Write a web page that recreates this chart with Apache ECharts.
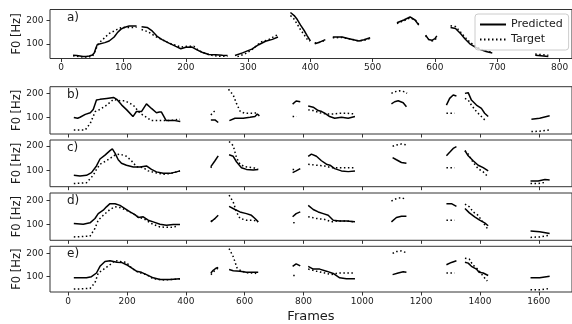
<!DOCTYPE html>
<html><head><meta charset="utf-8">
<script src="https://cdn.jsdelivr.net/npm/echarts@6/dist/echarts.min.js"></script>
<style>html,body{margin:0;padding:0;background:#fff}#c{width:572px;height:324px}</style>
</head><body><div id="c"></div>
<script>
// ---- tick labels ----
const xTicksA = [0, 100, 200, 300, 400, 500, 600, 700, 800];
const xTicksB = [0, 200, 400, 600, 800, 1000, 1200, 1400, 1600];
const yTicks = [100, 200];
const panelLetters = ['a)', 'b)', 'c)', 'd)', 'e)'];
const seriesNames = ['Predicted', 'Target'];

// ---- data: segments of [frame, F0 Hz] ----
const predA = [
 [[19,52],[25,51],[30,49],[35,47],[40,47],[45,49],[50,53],[53,62],[56,85],[58,98],[61,100],[70,106],[77,113],[85,130],[90,148],[96,164],[101,171],[109,177],[121,177]],
 [[129,174],[138,171],[146,156],[154,133],[162,119],[173,104],[184,90],[192,80],[200,86],[210,87],[218,75],[226,65],[237,55],[248,54],[259,52],[267,51]],
 [[279,51],[291,62],[306,78],[317,97],[328,112],[339,120],[348,130]],
 [[368,235],[374,222],[379,205],[384,182],[390,158],[395,135],[400,113]],
 [[407,101],[415,108],[424,119]],
 [[436,130],[451,130],[462,123],[478,113],[486,118],[496,127]],
 [[539,191],[550,203],[560,216],[568,203],[574,181]],
 [[585,138],[590,119],[595,116],[600,123],[603,135]],
 [[625,171],[633,167],[641,145],[648,123],[656,101],[664,88],[672,77],[682,68],[692,62]],
 [[761,52],[770,50],[782,47]]
];
const targA = [
 [[19,50],[25,48],[30,46],[35,44],[40,44],[45,45],[50,48],[53,60],[56,80],[58,92],[62,108],[67,120],[72,133],[77,145],[85,156],[90,163],[96,170],[105,171],[115,171],[121,172]],
 [[129,162],[140,152],[151,133],[162,119],[173,104],[184,94],[192,87],[203,91],[213,90],[221,72],[232,58],[243,51],[253,48],[267,48]],
 [[283,46],[295,58],[306,75],[320,108],[333,119],[348,141]],
 [[368,222],[373,210],[379,185],[384,162],[390,140],[395,120],[399,112]],
 [[407,104],[415,108],[424,116]],
 [[436,127],[451,128],[462,123],[478,113],[486,116],[496,124]],
 [[539,188],[550,200],[560,212],[568,205],[574,184]],
 [[585,135],[590,120],[595,113],[600,117],[603,128]],
 [[625,178],[633,175],[641,152],[648,130],[656,108],[664,92],[672,80],[682,70],[692,64]],
 [[761,57],[770,55],[782,52]]
];
const predB = [
 [[19,99],[25,97],[32,96],[40,100],[46,103],[58,112],[75,119],[85,133],[92,158],[96,172],[108,175],[131,179],[154,183],[165,175],[182,151],[199,131],[220,103],[232,124],[249,124],[266,156],[283,137],[300,119],[310,122],[317,122],[333,86],[347,86],[363,86],[381,82]],
 [[485,89],[499,89],[510,78]],
 [[548,86],[567,96],[595,96],[618,100],[635,103],[643,114],[650,106]],
 [[763,155],[775,168],[789,165]],
 [[816,147],[833,142],[850,128],[862,124],[872,117],[889,103],[906,96],[929,100],[952,96],[975,103]],
 [[1099,156],[1110,165],[1122,169],[1139,161],[1150,144]],
 [[1286,151],[1297,179],[1309,193],[1320,189]],
 [[1349,200],[1360,203],[1371,172],[1388,151],[1405,137],[1416,117],[1428,103]],
 [[1575,92],[1603,96],[1637,106]]
];
const targB = [
 [[19,47],[40,47],[58,47],[75,75],[92,124],[108,133],[131,151],[154,175],[176,169],[193,169],[221,151],[244,117],[266,100],[283,86],[300,86],[334,86],[357,88],[380,92]],
 [[485,110],[494,122],[504,133]],
 [[545,217],[561,193],[572,158],[585,124],[600,117],[629,117],[647,119]],
 [[763,103],[777,103]],
 [[816,131],[833,128],[856,119],[878,114],[901,114],[923,117],[946,117],[975,114]],
 [[1099,200],[1110,207],[1127,211],[1144,207],[1152,200]],
 [[1286,117],[1298,117],[1314,117]],
 [[1349,179],[1360,172],[1371,151],[1388,124],[1405,103],[1422,82]],
 [[1575,40],[1603,42],[1637,47]]
];
const predC = [
 [[19,81],[40,78],[62,81],[79,92],[96,119],[108,147],[125,163],[142,181],[150,188],[159,171],[170,144],[181,130],[198,122],[221,115],[244,115],[266,119],[283,105],[300,95],[323,89],[346,89],[368,95],[380,99]],
 [[485,116],[499,140],[510,160]],
 [[547,164],[561,158],[572,136],[589,112],[606,105],[629,103],[646,105]],
 [[763,92],[775,99],[789,108]],
 [[816,158],[827,167],[844,158],[861,140],[878,126],[890,122],[906,108],[929,99],[952,96],[975,99]],
 [[1103,153],[1116,144],[1133,133],[1150,130]],
 [[1286,160],[1297,174],[1309,190],[1320,197]],
 [[1349,181],[1360,160],[1377,140],[1394,122],[1411,112],[1428,99]],
 [[1572,58],[1598,58],[1621,64],[1637,62]]
];
const targC = [
 [[19,48],[62,51],[85,81],[96,105],[108,126],[130,140],[159,163],[176,167],[198,158],[215,140],[232,116],[255,112],[272,99],[295,92],[323,85],[351,89],[380,99]],
 [[484,112],[490,118]],
 [[547,218],[561,201],[572,153],[584,126],[600,116],[629,112],[646,105]],
 [[763,105],[775,105]],
 [[816,126],[844,122],[872,119],[895,112],[918,112],[946,112],[975,112]],
 [[1103,199],[1116,204],[1133,208],[1150,204]],
 [[1286,112],[1314,112]],
 [[1349,181],[1360,167],[1377,133],[1394,108],[1411,95],[1425,78]],
 [[1572,48],[1598,48],[1626,53]]
];
const predD = [
 [[19,104],[51,101],[74,107],[91,125],[102,145],[119,159],[130,173],[142,186],[159,186],[176,179],[193,166],[210,152],[227,141],[238,129],[255,132],[272,118],[289,111],[312,101],[334,97],[357,100],[380,100]],
 [[485,111],[499,125],[510,138]],
 [[547,175],[567,162],[584,152],[606,145],[623,138],[635,125],[646,111]],
 [[763,132],[775,145],[789,152]],
 [[816,179],[833,162],[850,152],[867,145],[884,138],[901,118],[923,115],[946,115],[975,111]],
 [[1099,111],[1116,129],[1133,134],[1150,134]],
 [[1286,186],[1303,186],[1320,175]],
 [[1349,166],[1364,148],[1382,132],[1399,118],[1416,107],[1428,95]],
 [[1572,73],[1603,70],[1637,63]]
];
const targD = [
 [[19,49],[74,52],[91,84],[102,118],[119,138],[142,162],[159,173],[176,170],[193,162],[215,148],[238,132],[261,121],[283,104],[312,90],[346,88],[374,93]],
 [[485,113],[499,124]],
 [[547,221],[561,193],[572,152],[584,125],[606,118],[629,118],[646,111]],
 [[765,107],[777,109]],
 [[816,132],[844,125],[872,121],[895,111],[918,115],[946,115],[975,111]],
 [[1099,197],[1116,207],[1133,211],[1150,203]],
 [[1286,118],[1314,118]],
 [[1349,184],[1364,173],[1377,152],[1394,138],[1411,107],[1425,84]],
 [[1572,47],[1603,49],[1637,56]]
];
const predE = [
 [[19,94],[62,94],[79,99],[96,115],[108,144],[125,165],[142,168],[165,162],[181,161],[198,151],[215,137],[232,123],[249,118],[266,108],[289,94],[312,87],[346,87],[380,90]],
 [[485,115],[493,127],[504,137],[510,139]],
 [[547,130],[561,125],[584,123],[606,118],[629,118],[646,118]],
 [[763,144],[775,155],[789,146]],
 [[816,144],[833,132],[855,132],[878,123],[901,113],[923,94],[946,90],[975,90]],
 [[1103,108],[1122,115],[1139,120],[1150,118]],
 [[1286,151],[1303,161],[1320,168]],
 [[1349,162],[1360,158],[1371,144],[1388,132],[1397,118],[1411,115],[1428,104]],
 [[1572,94],[1603,94],[1626,99],[1637,101]]
];
const targE = [
 [[19,45],[74,48],[91,73],[102,115],[119,130],[142,151],[159,169],[176,165],[198,161],[215,137],[238,118],[266,108],[289,90],[323,85],[357,87],[380,90]],
 [[485,108],[497,124],[510,137]],
 [[547,221],[561,186],[574,137],[589,123],[612,115],[635,115],[646,108]],
 [[765,104],[777,104]],
 [[816,132],[844,123],[872,115],[895,108],[918,115],[946,115],[975,115]],
 [[1103,200],[1116,208],[1133,211],[1150,203]],
 [[1286,115],[1314,115]],
 [[1349,179],[1364,175],[1375,151],[1394,130],[1411,101],[1425,80]],
 [[1572,42],[1603,42],[1637,48]]
];

// ---- layout ----
const panels = [
  {pred: predA, targ: targA, top: 9.5,  h: 49,   ymin: 38,   ymax: 248, xmin: -18, xmax: 820,  ticks: xTicksA, labels: true},
  {pred: predB, targ: targB, top: 86.7, h: 47.3, ymin: 30,   ymax: 228, xmin: -62, xmax: 1713, ticks: xTicksB, labels: false},
  {pred: predC, targ: targC, top: 140,  h: 46.7, ymin: 35,   ymax: 224, xmin: -62, xmax: 1713, ticks: xTicksB, labels: false},
  {pred: predD, targ: targD, top: 193,  h: 47.3, ymin: 35,   ymax: 230, xmin: -62, xmax: 1713, ticks: xTicksB, labels: false},
  {pred: predE, targ: targE, top: 246.3,h: 47,   ymin: 32.5, ymax: 231, xmin: -62, xmax: 1713, ticks: xTicksB, labels: true}
];

function flat(segs) {
  const out = [];
  segs.forEach((s, i) => {
    if (i) out.push([s[0][0] - 0.5, '-']);
    s.forEach(p => out.push(p));
  });
  return out;
}

const FONT = 'DejaVu Sans';
const TXT = '#1a1a1a';
const fmt = v => String(Math.round(v));
const grids = [], xAxes = [], yAxes = [], series = [], graphics = [];
panels.forEach((p, i) => {
  grids.push({left: 50, top: p.top, width: 522, height: p.h, show: true,
    borderColor: '#333', borderWidth: 1, backgroundColor: 'transparent', containLabel: false});
  xAxes.push({type: 'value', gridIndex: i, min: p.xmin, max: p.xmax,
    axisLine: {show: false, onZero: false}, splitLine: {show: false},
    axisTick: {show: true, length: 3.5, lineStyle: {color: '#333', width: 1}, customValues: p.ticks},
    axisLabel: {show: p.labels, customValues: p.ticks, formatter: fmt, margin: 5, fontSize: 9, fontFamily: FONT, color: TXT},
    name: i === 4 ? 'Frames' : '', nameLocation: 'middle', nameGap: 18, nameMoveOverlap: false,
    nameTextStyle: {fontSize: 13, fontFamily: FONT, color: TXT, verticalAlign: 'top'}
  });
  yAxes.push({type: 'value', gridIndex: i, min: p.ymin, max: p.ymax,
    axisLine: {show: false, onZero: false}, splitLine: {show: false},
    axisTick: {show: true, length: 3.5, lineStyle: {color: '#333', width: 1}, customValues: yTicks},
    axisLabel: {customValues: yTicks, formatter: fmt, margin: 6.5, fontSize: 9, fontFamily: FONT, color: TXT},
    name: 'F0 [Hz]', nameLocation: 'middle', nameGap: 27, nameRotate: 90, nameMoveOverlap: false,
    nameTextStyle: {fontSize: 11.5, fontFamily: FONT, color: TXT}
  });
  series.push({name: seriesNames[0], type: 'line', xAxisIndex: i, yAxisIndex: i, data: flat(p.pred),
    symbol: 'none', showSymbol: false, connectNulls: false, z: 3,
    lineStyle: {color: '#000', width: 1.5, type: 'solid'}, itemStyle: {color: '#000'}});
  series.push({name: seriesNames[1], type: 'line', xAxisIndex: i, yAxisIndex: i, data: flat(p.targ),
    symbol: 'none', showSymbol: false, connectNulls: false, z: 2,
    lineStyle: {color: '#000', width: 1.5, type: [1.5, 2.5]}, itemStyle: {color: '#000'}});
  graphics.push({type: 'text', left: 67, top: p.top + 2,
    style: {text: panelLetters[i], font: '12px "DejaVu Sans"', fill: TXT}});
});

const chart = echarts.init(document.getElementById('c'), null, {renderer: 'canvas'});
chart.setOption({
  animation: false,
  backgroundColor: '#fff',
  grid: grids, xAxis: xAxes, yAxis: yAxes, series: series,
  graphic: graphics,
  legend: {data: seriesNames, left: 475, top: 14, orient: 'vertical',
    padding: [5, 6, 5, 4], itemWidth: 26, itemHeight: 12, itemGap: 4,
    itemStyle: {opacity: 0, borderWidth: 0},
    borderColor: '#ccc', borderWidth: 1, borderRadius: 3, backgroundColor: 'rgba(255,255,255,0.8)',
    selectedMode: false, textStyle: {fontSize: 11, fontFamily: FONT, color: TXT}}
});
</script></body></html>
